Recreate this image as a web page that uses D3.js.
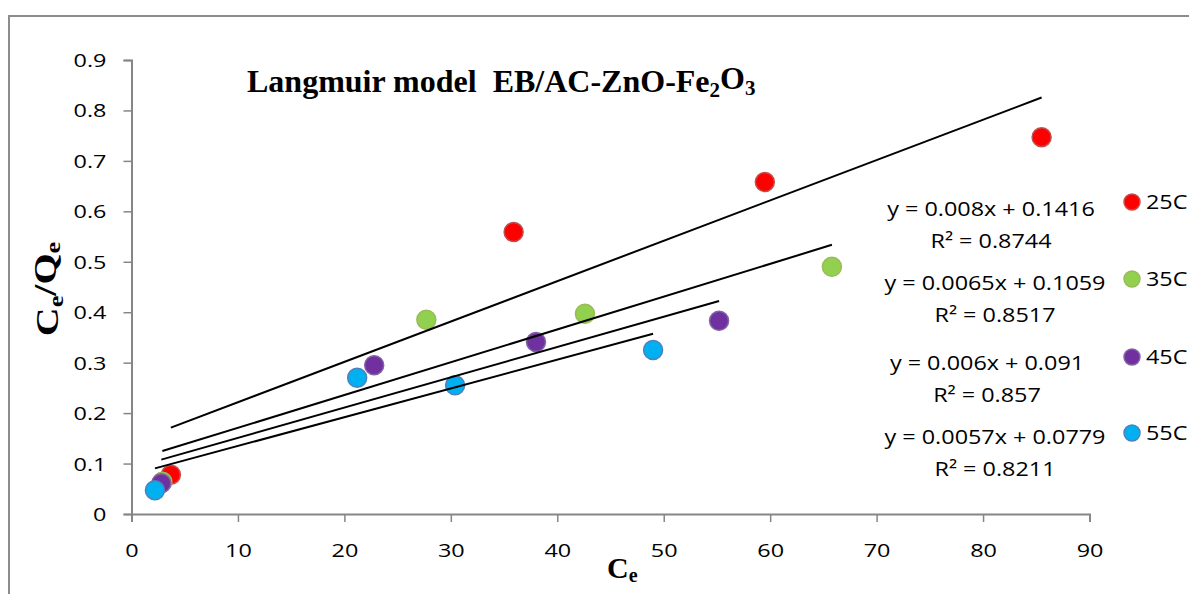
<!DOCTYPE html>
<html>
<head>
<meta charset="utf-8">
<script src="https://cdn.jsdelivr.net/npm/d3@7"></script>
<style>
  html, body { margin: 0; padding: 0; background: #fff; }
  svg { display: block; }
  text { white-space: pre; }
</style>
</head>
<body>
<svg id="chart" width="1189" height="594"></svg>
<script>
// Langmuir isotherm data, Ce vs Ce/Qe, at four temperatures
const series = ["25C", "35C", "45C", "55C"];
const ce25 = [3.7, 35.9, 59.5, 85.5];
const qe25 = [0.078, 0.559, 0.658, 0.747];
const ce35 = [2.9, 27.7, 42.6, 65.8];
const qe35 = [0.064, 0.385, 0.397, 0.490];
const ce45 = [2.8, 22.8, 38.0, 55.2];
const qe45 = [0.061, 0.295, 0.341, 0.383];
const ce55 = [2.2, 21.2, 30.4, 49.0];
const qe55 = [0.047, 0.270, 0.255, 0.325];
// Linear fits y = a*x + b with their R²
const slopes = [0.008, 0.0065, 0.006, 0.0057];
const intercepts = [0.1416, 0.1059, 0.091, 0.0779];
const r2 = ["0.8744", "0.8517", "0.857", "0.8211"];
const xTicks = [0, 10, 20, 30, 40, 50, 60, 70, 80, 90];
const yTicks = [0, 0.1, 0.2, 0.3, 0.4, 0.5, 0.6, 0.7, 0.8, 0.9];

const fills = ["#ff0000", "#92d050", "#7030a0", "#00b0f0"];
const borders = ["#c0504d", "#9bbb59", "#8064a2", "#4f81bd"];
const xs = [ce25, ce35, ce45, ce55];
const ys = [qe25, qe35, qe45, qe55];

const svg = d3.select("#chart");
const SANS = "'Open Sans', Lato, sans-serif";
const SERIF = "'Liberation Serif', 'Times New Roman', serif";
const TICK_W = 1.3;   // horizontal stretch of tick labels
const TEXT_W = 1.17;  // horizontal stretch of equation and legend text

// outer chart frame
svg.append("rect")
  .attr("x", 9).attr("y", 16).attr("width", 1300).attr("height", 700)
  .attr("fill", "none").attr("stroke", "#8c8c8c").attr("stroke-width", 2);

const x = d3.scaleLinear().domain([0, 90]).range([131.5, 1089.5]);
const y = d3.scaleLinear().domain([0, 0.9]).range([514, 60]);

const axisColor = "#868686";

// y axis
const gy = svg.append("g").attr("transform", `translate(${x(0)},0)`)
  .call(d3.axisLeft(y).tickValues(yTicks).tickSize(8).tickFormat(d3.format("")));
gy.select(".domain").attr("stroke", axisColor).attr("stroke-width", 2);
gy.selectAll(".tick line").attr("stroke", axisColor).attr("stroke-width", 1.5);
gy.selectAll(".tick text")
  .attr("x", null).attr("dy", "0.36em")
  .attr("transform", `translate(-25,0) scale(${TICK_W},1)`)
  .attr("text-anchor", "end")
  .style("font-family", SANS).style("font-size", "18px").attr("fill", "#000");

// x axis
const gx = svg.append("g").attr("transform", `translate(0,${y(0)})`)
  .call(d3.axisBottom(x).tickValues(xTicks).tickSize(8).tickFormat(d3.format("")));
gx.select(".domain").attr("stroke", axisColor).attr("stroke-width", 2);
gx.selectAll(".tick line").attr("stroke", axisColor).attr("stroke-width", 1.5);
gx.selectAll(".tick text")
  .attr("y", null).attr("dy", null)
  .attr("transform", `translate(0,43) scale(${TICK_W},1)`)
  .attr("text-anchor", "middle")
  .style("font-family", SANS).style("font-size", "18px").attr("fill", "#000");

// markers
series.forEach((name, i) => {
  const pts = xs[i].map((v, k) => [v, ys[i][k]]);
  svg.append("g").selectAll("circle").data(pts).join("circle")
    .attr("cx", d => x(d[0])).attr("cy", d => y(d[1])).attr("r", 9.5)
    .attr("fill", fills[i]).attr("stroke", borders[i]).attr("stroke-width", 1.5);
});

// trend lines across each series' Ce range
const line = d3.line().x(d => x(d[0])).y(d => y(d[1]));
series.forEach((name, i) => {
  const [lo, hi] = d3.extent(xs[i]);
  const f = v => slopes[i] * v + intercepts[i];
  svg.append("path").datum([[lo, f(lo)], [hi, f(hi)]])
    .attr("d", line).attr("fill", "none").attr("stroke", "#000").attr("stroke-width", 2);
});

// stretched text helper
function label(parent, px, py, str, size, anchor) {
  return parent.append("text")
    .attr("transform", `translate(${px},${py}) scale(${TEXT_W},1)`)
    .attr("text-anchor", anchor)
    .style("font-family", SANS).style("font-size", size + "px").attr("fill", "#000")
    .text(str);
}

// fit equations
const eqPos = [[991, 209], [995, 283], [987, 363], [995, 437]];
series.forEach((name, i) => {
  const [cx, cy] = eqPos[i];
  label(svg, cx, cy + 7, `y = ${slopes[i]}x + ${intercepts[i]}`, 20, "middle");
  label(svg, cx, cy + 39, `R² = ${r2[i]}`, 20, "middle");
});

// legend
const legY = [202, 279, 357, 433];
series.forEach((name, i) => {
  svg.append("circle").attr("cx", 1132).attr("cy", legY[i]).attr("r", 8)
    .attr("fill", fills[i]).attr("stroke", borders[i]).attr("stroke-width", 1.5);
  label(svg, 1146, legY[i] + 7, name, 20, "start");
});

// title
const title = svg.append("text")
  .attr("transform", "translate(247,92)")
  .style("font-family", SERIF).style("font-size", "32px").style("font-weight", "bold");
title.append("tspan").text("Langmuir model  EB/AC-ZnO-Fe");
title.append("tspan").attr("dy", "0.25em").style("font-size", "21px").text("2");
title.append("tspan").attr("dy", "-0.25em").text("O");
title.append("tspan").attr("dy", "0.25em").style("font-size", "21px").text("3");

// axis titles
const xt = svg.append("text").attr("transform", "translate(607,578)")
  .style("font-family", SERIF).style("font-size", "30px").style("font-weight", "bold");
xt.append("tspan").text("C");
xt.append("tspan").attr("dy", "0.22em").style("font-size", "20px").text("e");

const yt = svg.append("text").attr("transform", "translate(58,289) rotate(-90) scale(1.25,1)")
  .attr("text-anchor", "middle")
  .style("font-family", SERIF).style("font-size", "32px").style("font-weight", "bold");
yt.append("tspan").text("C");
yt.append("tspan").attr("dy", "0.22em").style("font-size", "21px").text("e");
yt.append("tspan").attr("dy", "-0.22em").text("/Q");
yt.append("tspan").attr("dy", "0.22em").style("font-size", "21px").text("e");
</script>
</body>
</html>
